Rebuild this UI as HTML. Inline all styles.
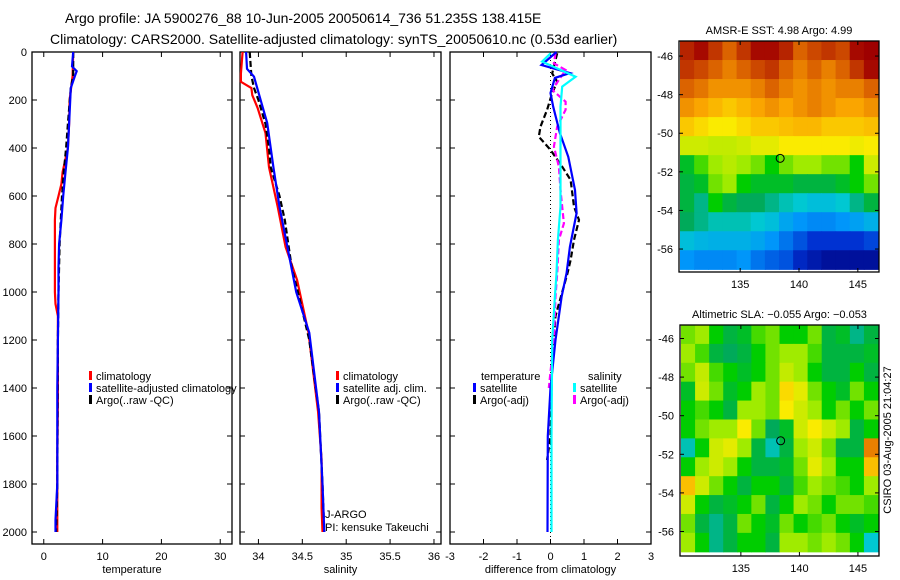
<!DOCTYPE html>
<html><head><meta charset="utf-8"><style>
body{margin:0;background:#fff}
svg{display:block;font-family:"Liberation Sans",sans-serif}
</style></head><body>
<svg id="fig" width="900" height="580" viewBox="0 0 900 580" xmlns="http://www.w3.org/2000/svg">
<text x="65" y="23" font-size="14">Argo profile: JA 5900276_88 10-Jun-2005 20050614_736 51.235S 138.415E</text>
<text x="50" y="44" font-size="14">Climatology: CARS2000. Satellite-adjusted climatology: synTS_20050610.nc (0.53d earlier)</text>
<g id="plots"></g>
<text transform="translate(891,440) rotate(-90)" text-anchor="middle" font-size="11">CSIRO 03-Aug-2005 21:04:27</text>
</svg>
<script>
// ---- data (depth m, value) ----
const tClimDepth=[0,100,200,300,400,500,550,600,650,700,1000,1050,1100,1300,1450,1700,2000];
const tClimVal=[5.0,4.9,4.4,4.3,4.1,3.2,3.0,2.5,2.0,1.9,1.9,2.0,2.4,2.4,2.4,2.3,2.3];
const tSatDepth=[0,60,80,100,150,300,400,500,600,700,800,900,1000,1200,1400,1600,1800,1950,2000];
const tSatVal=[5.0,4.8,5.6,5.3,4.6,4.3,4.1,3.7,3.3,3.0,2.6,2.5,2.5,2.4,2.3,2.3,2.3,2.0,2.0];
const tArgoDepth=[0,100,150,300,400,500,600,700,800,1000,1200,1800,2000];
const tArgoVal=[5.0,5.0,4.6,4.1,3.8,3.4,3.1,2.9,2.7,2.5,2.4,2.3,2.1];
const sClimDepth=[0,90,124,150,180,233,338,480,645,812,950,1170,1500,1700,1900,2000];
const sClimVal=[33.82,33.8,33.8,33.92,33.93,33.99,34.08,34.12,34.22,34.31,34.44,34.57,34.68,34.72,34.72,34.73];
const sSatDepth=[0,70,103,207,296,480,645,812,1000,1170,1500,1800,2000];
const sSatVal=[33.86,33.87,33.95,34.03,34.10,34.17,34.24,34.33,34.43,34.58,34.69,34.73,34.75];
const sArgoDepth=[0,100,150,200,300,400,480,600,700,900,1000,1200,1500,1800,2000];
const sArgoVal=[33.9,33.92,33.95,34.0,34.08,34.12,34.14,34.24,34.3,34.38,34.45,34.58,34.69,34.73,34.75];
const dTSatDepth=[0,54,88,108,171,228,338,437,575,671,812,921,1020,1200,1400,1600,2000];
const dTSatVal=[0.18,-0.27,0.58,0.13,0.0,0.08,0.28,0.53,0.73,0.78,0.58,0.48,0.33,0.15,0.0,-0.08,-0.09];
const dTArgoDepth=[5,89,124,171,241,311,353,408,478,533,644,700,783,867,925,1100,1300,1600,1700];
const dTArgoVal=[0.2,0.05,0.2,0.05,-0.1,-0.3,-0.35,0.0,0.35,0.6,0.7,0.85,0.7,0.6,0.5,0.15,0.05,0.0,-0.1];
const dSSatDepth=[5,40,103,144,228,367,505,644,783,922,1019,1200,1600,2000];
const dSSatVal=[0.01,-0.25,0.75,0.35,0.3,0.3,0.3,0.3,0.22,0.18,0.13,0.05,0.03,0.03];
const dSArgoDepth=[5,47,75,158,207,241,311,394,478,575,714,783,922,1019,1200,1400];
const dSArgoVal=[0.15,0.1,0.45,0.05,0.45,0.45,0.2,0.1,0.25,0.3,0.4,0.25,0.2,0.15,0.1,-0.05];
const depthTicks=[0,200,400,600,800,1000,1200,1400,1600,1800,2000];
const tTicks=[0,10,20,30];
const sTicks=[34,34.5,35,35.5,36];
const dTicks=[-3,-2,-1,0,1,2,3];
// maps (rows north->south), colour index 0..1
const sstGrid=[
[.92,.95,.9,.85,.9,.95,.95,.92,.85,.88,.9,.88,.95,.97],
[.9,.88,.85,.82,.85,.88,.9,.85,.82,.85,.82,.85,.9,.95],
[.85,.83,.8,.8,.8,.82,.85,.82,.8,.82,.8,.82,.82,.85],
[.8,.78,.76,.74,.76,.78,.8,.78,.8,.82,.8,.78,.78,.8],
[.74,.72,.7,.7,.72,.74,.74,.75,.76,.76,.74,.74,.74,.75],
[.66,.66,.65,.65,.66,.68,.68,.7,.7,.7,.7,.7,.69,.7],
[.52,.58,.62,.64,.62,.6,.55,.6,.62,.62,.6,.6,.55,.66],
[.5,.52,.6,.62,.55,.52,.52,.52,.5,.5,.5,.52,.55,.6],
[.5,.45,.55,.5,.48,.48,.45,.42,.4,.38,.38,.4,.45,.5],
[.48,.45,.42,.42,.42,.4,.38,.33,.3,.28,.28,.3,.32,.35],
[.38,.36,.35,.35,.35,.33,.3,.25,.2,.15,.15,.15,.15,.18],
[.3,.28,.28,.28,.3,.25,.22,.2,.12,.08,.05,.05,.05,.05]];
const slaGrid=[
[.6,.62,.55,.5,.52,.58,.6,.55,.55,.6,.5,.52,.45,.5],
[.62,.58,.5,.48,.5,.55,.6,.62,.62,.58,.5,.5,.5,.52],
[.6,.65,.58,.55,.52,.55,.6,.65,.62,.55,.5,.5,.55,.5],
[.52,.66,.6,.52,.55,.62,.6,.72,.68,.6,.55,.52,.6,.55],
[.55,.58,.55,.5,.62,.62,.6,.7,.66,.62,.55,.6,.55,.6],
[.55,.6,.62,.62,.7,.6,.48,.52,.66,.7,.66,.62,.5,.55],
[.42,.55,.66,.68,.62,.5,.42,.5,.62,.66,.6,.5,.5,.82],
[.55,.62,.66,.62,.55,.5,.5,.52,.6,.68,.62,.55,.55,.75],
[.75,.66,.6,.55,.5,.55,.55,.5,.58,.62,.6,.58,.55,.62],
[.66,.55,.5,.52,.55,.6,.5,.55,.62,.6,.55,.6,.6,.58],
[.6,.5,.45,.5,.6,.55,.52,.6,.55,.58,.6,.55,.52,.55],
[.62,.55,.45,.5,.55,.55,.5,.62,.62,.6,.62,.6,.55,.4]];
const latTicks=[-46,-48,-50,-52,-54,-56];
const lonTicks=[135,140,145];
const argoLon=138.4, argoLat=-51.3;

const NS='http://www.w3.org/2000/svg';
const root=document.getElementById('plots');
function mk(tag,attrs,parent){const e=document.createElementNS(NS,tag);for(const k in attrs)e.setAttribute(k,attrs[k]);(parent||root).appendChild(e);return e;}
const Y0=52, YB=544, yScale=d=>Y0+d*0.24;

function panel(name,x0,x1,xmin,xmax,xticks,label,leftLabels){
  const g=mk('g',{});
  
  
  const xs=v=>x0+(v-xmin)/(xmax-xmin)*(x1-x0);
  const fr=mk('rect',{x:x0,y:Y0,width:x1-x0,height:YB-Y0,fill:'none',stroke:'#000','stroke-width':1.3},g);
  
  
  depthTicks.forEach(d=>{const y=yScale(d);
    mk('line',{x1:x0,x2:x0+5,y1:y,y2:y,stroke:'#000'},g);
    mk('line',{x1:x1,x2:x1-5,y1:y,y2:y,stroke:'#000'},g);
    if(leftLabels){const t=mk('text',{x:x0-5,y:y+4,'text-anchor':'end','font-size':11},g);t.textContent=d;
      
      }
  });
  xticks.forEach(v=>{const x=xs(v);
    mk('line',{x1:x,x2:x,y1:Y0,y2:Y0+5,stroke:'#000'},g);
    mk('line',{x1:x,x2:x,y1:YB,y2:YB-5,stroke:'#000'},g);
    const t=mk('text',{x:x,y:YB+16,'text-anchor':'middle','font-size':11},g);t.textContent=v;
    
    
  });
  const l=mk('text',{x:(x0+x1)/2,y:YB+29,'text-anchor':'middle','font-size':11},g);l.textContent=label;
  
  
  return {g,xs};
}
function series(p,depths,vals,color,dash,sname,w){
  const pts=depths.map((d,i)=>p.xs(vals[i]).toFixed(1)+','+yScale(d).toFixed(1)).join(' ');
  const e=mk('polyline',{points:pts,fill:'none',stroke:color,'stroke-width':w||2.2},p.g);
  if(dash)e.setAttribute('stroke-dasharray',dash);
  
  
}
function legend(g,x,y,color,text,name,dashed){
  if(color){const r=mk('rect',{x:x,y:y-9,width:3,height:dashed?6:9,fill:color},g);
    
    }
  const t=mk('text',{x:x+7,y:y,'font-size':11},g);t.textContent=text;
  
  
}
// temperature
const p1=panel('temperature-panel',32,232,-2,32,tTicks,'temperature',true);
series(p1,tClimDepth,tClimVal,'#f00',null,'temp-climatology-line');
series(p1,tArgoDepth,tArgoVal,'#000','6,3','temp-argo-line');
series(p1,tSatDepth,tSatVal,'#00f',null,'temp-satellite-line');
legend(p1.g,89,380,'#f00','climatology','legend-climatology');
legend(p1.g,89,392,'#00f','satellite-adjusted climatology','legend-satellite');
legend(p1.g,89,404,'#000','Argo(..raw -QC)','legend-argo');
// salinity
const p2=panel('salinity-panel',240,441,33.79,36.08,sTicks,'salinity',false);
series(p2,sClimDepth,sClimVal,'#f00',null,'sal-climatology-line');
series(p2,sArgoDepth,sArgoVal,'#000','6,3','sal-argo-line');
series(p2,sSatDepth,sSatVal,'#00f',null,'sal-satellite-line');
legend(p2.g,336,380,'#f00','climatology','legend-climatology');
legend(p2.g,336,392,'#00f','satellite adj. clim.','legend-satellite');
legend(p2.g,336,404,'#000','Argo(..raw -QC)','legend-argo');
const j1=mk('text',{x:325,y:518,'font-size':11},p2.g);j1.textContent='J-ARGO';


const j2=mk('text',{x:325,y:531,'font-size':11},p2.g);j2.textContent='PI: kensuke Takeuchi';


// difference
const p3=panel('difference-panel',450,651,-3,3,dTicks,'difference from climatology',false);
const zl=mk('line',{x1:p3.xs(0),x2:p3.xs(0),y1:Y0,y2:YB,stroke:'#000','stroke-dasharray':'1,3'},p3.g);


series(p3,dTArgoDepth,dTArgoVal,'#000','6,3','diff-temp-argo-line');
series(p3,dSArgoDepth,dSArgoVal,'#f0f','6,3','diff-sal-argo-line');
series(p3,dTSatDepth,dTSatVal,'#00f',null,'diff-temp-satellite-line');
series(p3,dSSatDepth,dSSatVal,'#0ff',null,'diff-sal-satellite-line');
legend(p3.g,474,380,null,'temperature','legend-temperature-heading');
legend(p3.g,473,392,'#00f','satellite','legend-temp-satellite');
legend(p3.g,473,404,'#000','Argo(-adj)','legend-temp-argo');
legend(p3.g,581,380,null,'salinity','legend-salinity-heading');
legend(p3.g,573,392,'#0ff','satellite','legend-sal-satellite');
legend(p3.g,573,404,'#f0f','Argo(-adj)','legend-sal-argo');

// maps
const cmapStops=[[0,[0,0,128]],[0.15,[0,50,210]],[0.3,[0,150,250]],[0.4,[0,200,210]],[0.48,[0,170,90]],[0.55,[0,205,0]],[0.62,[160,235,0]],[0.7,[250,235,0]],[0.78,[250,165,0]],[0.86,[215,90,0]],[0.96,[160,0,0]],[1,[150,0,0]]];
function cmap(v){
  for(let i=1;i<cmapStops.length;i++){
    if(v<=cmapStops[i][0]){const a=cmapStops[i-1],b=cmapStops[i];const f=(v-a[0])/(b[0]-a[0]);
      return 'rgb('+a[1].map((c,k)=>Math.round(c+(b[1][k]-c)*f)).join(',')+')';}
  }
  return 'rgb(150,0,0)';
}
function map(name,grid,fx0,fy0,fx1,fy1,title){
  const g=mk('g',{});
  
  
  const lonMin=129.8,lonMax=146.8,latTop=fy0===41?-45.22:-45.3,latBot=latTop-11.97;
  const xs=lo=>fx0+(lo-lonMin)/(lonMax-lonMin)*(fx1-fx0);
  const ys=la=>fy0+(latTop-la)/(latTop-latBot)*(fy1-fy0);
  const dx0=fx0+1,dx1=fx1-1,dy0=fy0,dy1=ys(-57.05);
  const nr=grid.length,nc=grid[0].length,cw=(dx1-dx0)/nc,ch=(dy1-dy0)/nr;
  grid.forEach((row,i)=>row.forEach((v,j)=>{
    const r=mk('rect',{x:(dx0+j*cw).toFixed(2),y:(dy0+i*ch).toFixed(2),width:(cw+0.6).toFixed(2),height:(ch+0.6).toFixed(2),fill:cmap(v)},g);
    
    
  }));
  const fr=mk('rect',{x:fx0,y:fy0,width:fx1-fx0,height:fy1-fy0,fill:'none',stroke:'#000','stroke-width':1.3},g);
  
  
  latTicks.forEach(la=>{const y=ys(la);
    mk('line',{x1:fx0,x2:fx0+4,y1:y,y2:y,stroke:'#000'},g);
    mk('line',{x1:fx1,x2:fx1-4,y1:y,y2:y,stroke:'#000'},g);
    const t=mk('text',{x:fx0-6,y:y+4,'text-anchor':'end','font-size':11},g);t.textContent=la;
    
    });
  lonTicks.forEach(lo=>{const x=xs(lo);
    mk('line',{x1:x,x2:x,y1:fy0,y2:fy0+4,stroke:'#000'},g);
    mk('line',{x1:x,x2:x,y1:fy1,y2:fy1-4,stroke:'#000'},g);
    const t=mk('text',{x:x,y:fy1+16,'text-anchor':'middle','font-size':11},g);t.textContent=lo;
    
    });
  const c=mk('circle',{cx:xs(argoLon),cy:ys(argoLat),r:4,fill:'none',stroke:'#000','stroke-width':1},g);
  
  
  const t=mk('text',{x:(fx0+fx1)/2,y:fy0-7,'text-anchor':'middle','font-size':11},g);t.textContent=title;
  
  
}
map('sst-map',sstGrid,679,41,879,272,'AMSR-E SST: 4.98 Argo: 4.99');
map('sla-map',slaGrid,680,325,879,556,'Altimetric SLA: −0.055 Argo: −0.053');
</script>
</body></html>
